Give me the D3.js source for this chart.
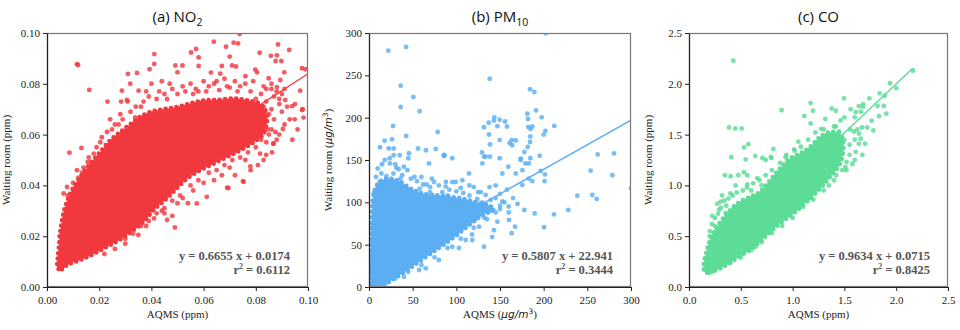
<!DOCTYPE html>
<html>
<head>
<meta charset="utf-8">
<script src="https://cdn.jsdelivr.net/npm/d3@7"></script>
<style>
  body { margin: 0; background: #fff; }
  svg { display: block; }
</style>
</head>
<body>
<div id="chart"></div>
<script>
// ---- values ----

// (a) NO2 : outline of the saturated point cloud, then the loose points
const no2Core = [
  [0.0041,0.0074],[0.0057,0.0070],[0.0077,0.0087],[0.0128,0.0107],[0.0179,0.0131],[0.0230,0.0159],
  [0.0281,0.0188],[0.0332,0.0225],[0.0370,0.0257],[0.0408,0.0303],[0.0459,0.0349],[0.0497,0.0388],
  [0.0536,0.0427],[0.0587,0.0460],[0.0638,0.0486],[0.0689,0.0512],[0.0740,0.0538],[0.0791,0.0570],
  [0.0829,0.0603],[0.0842,0.0681],[0.0816,0.0720],[0.0765,0.0735],[0.0714,0.0742],[0.0651,0.0736],
  [0.0599,0.0734],[0.0548,0.0722],[0.0497,0.0708],[0.0446,0.0700],[0.0395,0.0688],[0.0357,0.0670],
  [0.0319,0.0640],[0.0281,0.0610],[0.0242,0.0577],[0.0204,0.0531],[0.0166,0.0486],[0.0128,0.0433],
  [0.0096,0.0381],[0.0070,0.0316],[0.0054,0.0238],[0.0046,0.0159],[0.0041,0.0107]
];
const no2Points = [
  [0.0115,0.0877],[0.0119,0.0874],[0.0162,0.0776],[0.0232,0.0730],[0.0086,0.0529],[0.0132,0.0547],
  [0.0310,0.0839],[0.0345,0.0843],[0.0319,0.0800],[0.0287,0.0773],[0.0284,0.0730],[0.0309,0.0730],
  [0.0411,0.0917],[0.0411,0.0878],[0.0393,0.0857],[0.0492,0.0872],[0.0519,0.0872],[0.0500,0.0845],
  [0.0552,0.0923],[0.0571,0.0937],[0.0581,0.0904],[0.0581,0.0870],[0.0639,0.0966],[0.0686,0.0946],
  [0.0715,0.0962],[0.0732,0.0959],[0.0738,0.0996],[0.0700,0.0907],[0.0670,0.0870],[0.0709,0.0872],
  [0.0724,0.0868],[0.0628,0.0844],[0.0664,0.0840],[0.0815,0.0922],[0.0858,0.0910],[0.0881,0.0912],
  [0.0885,0.0955],[0.0928,0.0933],[0.0876,0.0890],[0.0898,0.0890],[0.0798,0.0856],[0.0805,0.0845],
  [0.0849,0.0822],[0.0909,0.0845],[0.0977,0.0861],[0.0990,0.0857],[0.0970,0.0773],[0.0949,0.0660],
  [0.0983,0.0667],[0.0977,0.0697],[0.0939,0.0712],[0.0904,0.0622],[0.0868,0.0565],[0.0913,0.0736],
  [0.0894,0.0815],[0.0860,0.0800],[0.0881,0.0787],
  [0.0690,0.0391],[0.0751,0.0417],[0.0808,0.0480],[0.0779,0.0475],[0.0840,0.0520],[0.0862,0.0530],
  [0.0490,0.0234],[0.0480,0.0280],[0.0460,0.0264],[0.0574,0.0329],[0.0695,0.0390],[0.0753,0.0414],
  [0.0612,0.0355],[0.0670,0.0440],[0.0816,0.0525],[0.0867,0.0564],[0.0830,0.0500],[0.0540,0.0330],
  [0.0520,0.0350],[0.0440,0.0300],[0.0410,0.0270],[0.0380,0.0240],[0.0350,0.0205],[0.0300,0.0170],
  [0.0260,0.0150],[0.0220,0.0130],
  [0.0064,0.0368],[0.0077,0.0394],[0.0115,0.0460],[0.0134,0.0450],[0.0156,0.0492],[0.0179,0.0525],
  [0.0204,0.0570],[0.0249,0.0620],[0.0274,0.0640],[0.0242,0.0660],[0.0281,0.0680],[0.0306,0.0736],
  [0.0338,0.0668],[0.0351,0.0773],
  [0.0360,0.0710],[0.0420,0.0740],[0.0450,0.0760],[0.0480,0.0780],[0.0530,0.0770],[0.0550,0.0800],
  [0.0580,0.0770],[0.0620,0.0790],[0.0660,0.0775],[0.0700,0.0785],[0.0740,0.0790],[0.0780,0.0770],
  [0.0800,0.0740],[0.0830,0.0710],[0.0870,0.0750],[0.0880,0.0770],[0.0850,0.0680],[0.0900,0.0690],
  [0.0930,0.0660],[0.0960,0.0620],[0.0890,0.0600],[0.0845,0.0620],[0.0440,0.0810],[0.0380,0.0770],
  [0.0400,0.0800],
  [0.0080,0.0360],[0.0100,0.0410],[0.0120,0.0430],[0.0140,0.0470],[0.0160,0.0510],[0.0190,0.0550],
  [0.0210,0.0590],[0.0230,0.0610],[0.0260,0.0640],[0.0290,0.0660],[0.0320,0.0690],[0.0340,0.0710],
  [0.0370,0.0730],[0.0390,0.0750],[0.0430,0.0770],[0.0460,0.0740],[0.0500,0.0760],[0.0570,0.0780],
  [0.0600,0.0810],[0.0640,0.0800],[0.0680,0.0820],[0.0720,0.0810],[0.0760,0.0830],[0.0790,0.0810],
  [0.0830,0.0790],[0.0860,0.0780],[0.0890,0.0740],[0.0920,0.0710],[0.0950,0.0720],[0.0980,0.0700],
  [0.0910,0.0640],[0.0940,0.0580],[0.0880,0.0580],[0.0860,0.0620],[0.0830,0.0650],[0.0800,0.0660],
  [0.0300,0.0190],[0.0330,0.0210],[0.0360,0.0240],[0.0390,0.0260],[0.0420,0.0290],[0.0450,0.0310],
  [0.0480,0.0340],[0.0510,0.0360],[0.0550,0.0400],[0.0580,0.0420],[0.0620,0.0450],[0.0650,0.0460],
  [0.0680,0.0480],[0.0710,0.0500],[0.0740,0.0510],[0.0770,0.0530],[0.0800,0.0550],[0.0840,0.0570],
  [0.0875,0.0610],[0.0720,0.0440],[0.0640,0.0420],[0.0780,0.0460],
  [0.0780,0.0640],[0.0800,0.0700],[0.0820,0.0760],[0.0840,0.0730],[0.0860,0.0700],[0.0870,0.0660],
  [0.0890,0.0720],[0.0910,0.0780],[0.0900,0.0760],[0.0840,0.0780],[0.0760,0.0800],[0.0730,0.0770],
  [0.0690,0.0790],[0.0650,0.0810],[0.0610,0.0770],[0.0560,0.0760],[0.0520,0.0790],[0.0470,0.0800],
  [0.0760,0.0500],[0.0700,0.0470],[0.0600,0.0410],[0.0560,0.0380],[0.0500,0.0330],[0.0450,0.0290],
  [0.0820,0.0580],[0.0850,0.0600]
];

// (b) PM10
const pmCore = [
  [0,0],[11.5,0.4],[22.9,6.3],[38.2,16.1],[57.3,29.9],[76.3,43.7],[95.4,57.4],[114.5,73.2],
  [129.8,85.0],[143.0,92.0],[135.0,97.0],[122.0,100.0],[108.0,104.0],[95.0,106.0],[80.0,108.0],
  [62.0,110.0],[48.0,116.0],[34.0,125.0],[22.0,128.0],[12.0,124.0],[6.0,112.0],
  [3.0,70.0],[1.5,24],[1.0,0]
];
const pmPoints = [
  [22.1,279.1],[42.4,283.4],[202.3,299.6],[36.3,237.8],[50.8,224.4],[36.3,212.6],[58.0,207.5],
  [138.2,246.0],[184.4,233.5],[189.3,230.4],[27.5,190.2],[78.6,183.1],[42.7,178.3],[17.9,172.7],
  [26.3,174.5],[12.6,165.0],[22.5,163.5],[28.2,163.5],[56.1,163.5],[65.3,161.6],[76.3,163.1],
  [86.3,155.6],[28.2,155.6],[35.1,155.6],[23.7,152.0],[45.0,152.0],[95.4,152.0],[143.5,200.4],
  [137.0,194.0],[143.0,196.5],[149.6,197.5],[155.7,195.5],[131.7,188.6],[147.0,190.0],[158.0,189.5],
  [181.3,204.7],[191.2,208.6],[182.0,198.4],[197.7,200.4],[182.4,189.0],[187.0,189.5],[185.0,186.5],
  [212.2,190.3],[202.0,184.2],[200.0,180.0],[137.4,180.2],[149.6,173.5],[163.4,173.5],[168.0,173.0],
  [161.0,170.0],[164.0,167.5],[184.7,177.8],[184.4,171.2],[181.7,165.3],[177.9,159.4],[138.5,168.3],
  [129.4,159.0],[131.7,154.0],[138.5,154.0],[149.6,152.0],[173.7,151.4],[184.7,152.0],[195.4,155.0],
  [261.8,156.5],[280.5,157.8],[85.9,154.7],
  [253.8,137.4],[278.6,131.9],[300.0,116.5],[238.5,107.8],[255.7,108.6],[260.7,104.0],[228.2,90.9],
  [211.8,85.8],[200.4,70.5],[177.9,90.9],[189.7,86.9],[201.5,133.0],[201.0,125.0],[196.6,137.0],
  [183.0,128.0],[187.0,125.0],[179.0,146.0],[183.0,146.0],[173.7,150.0],[175.6,120.5],[160.3,79.1],
  [167.2,71.3],[163.4,63.4],[131.7,47.6],[118.3,55.5],[141.0,59.0],[143.0,67.0],[147.0,77.0],
  [160.0,95.0],[152.7,101.0],[133.6,108.6],[139.3,102.7],[168.0,134.0],[175.6,138.0],[152.7,134.0],
  [159.5,142.0],[129.8,146.0],[133.6,154.0],[114.5,134.0],[106.9,126.0],[95.4,124.0],[87.8,118.5],
  [68.7,146.0],[45.8,157.9],[85.9,156.0],[99.2,124.0],[74.4,124.0],[5.7,110.7],[5.7,98.9],
  [6.5,112.5],[14.2,134.0],[12.2,124.0],[4.6,71.4],[6.5,61.6],[31.4,140.5],[20.0,131.0],
  [95.4,47.6],[80.0,31.9],[57.3,20.0],[110.7,55.5],[126.0,71.3],[65.0,22.0],[103.0,46.0],
  [118.0,62.0],[135.0,80.0],[40.0,12.0],[150.0,96.0],[145.0,88.0],[120.0,118.0],[62.0,121.0],
  [105.0,117.0],[70.0,118.0],[40.0,142.0],[52.0,130.0],
  [8.0,130.0],[10.0,140.0],[15.0,145.0],[18.0,150.0],[24.0,146.0],[30.0,145.0],[34.0,139.0],
  [38.0,132.0],[44.0,138.0],[48.0,128.0],[55.0,125.0],[60.0,130.0],[66.0,121.0],[72.0,128.0],
  [80.0,120.0],[88.0,124.0],[92.0,115.0],[100.0,113.0],[108.0,111.0],[115.0,108.0],[124.0,104.0],
  [130.0,100.0],[16.0,118.0],[22.0,125.0],[12.0,112.0],[28.0,134.0],[36.0,128.0],[58.0,116.0],
  [10.0,2.0],[20.0,5.0],[30.0,10.0],[45.0,18.0],[60.0,26.0],[75.0,35.0],[90.0,46.0],[105.0,57.0],
  [120.0,70.0],[132.0,82.0],[140.0,90.0],[150.0,92.0],[155.0,100.0],[145.0,105.0],[125.0,112.0],
  [115.0,120.0],
  [110.0,100.0],[118.0,96.0],[126.0,92.0],[100.0,102.0],[112.0,88.0],[122.0,80.0],[135.0,92.0],
  [105.0,80.0],[90.0,108.0],[84.0,112.0],[70.0,112.0],[128.0,112.0],[138.0,118.0],[145.0,120.0],
  [150.0,110.0],[158.0,115.0],[165.0,105.0],[170.0,98.0],[160.0,88.0]
];

// (c) CO
const coCore = [
  [0.157,0.144],[0.254,0.163],[0.366,0.219],[0.494,0.307],[0.623,0.392],[0.751,0.512],[0.879,0.627],
  [1.008,0.725],[1.136,0.839],[1.264,0.969],[1.361,1.084],[1.457,1.214],[1.489,1.377],[1.457,1.508],
  [1.361,1.524],[1.264,1.475],[1.168,1.377],[1.072,1.312],[0.976,1.263],[0.879,1.165],[0.783,1.051],
  [0.687,0.937],[0.591,0.888],[0.494,0.839],[0.398,0.757],[0.318,0.659],[0.254,0.561],[0.205,0.463],
  [0.167,0.333],[0.141,0.202]
];
const coPoints = [
  [0.428,2.227],[2.162,2.129],[1.940,2.005],[2.001,1.957],[1.840,1.906],[1.889,1.883],[1.741,1.857],
  [1.496,1.857],[1.680,1.800],[1.640,1.780],[1.680,1.775],[1.174,1.810],[0.894,1.740],[1.197,1.735],
  [1.377,1.758],[1.416,1.735],[1.560,1.750],[1.610,1.720],[1.660,1.725],[1.820,1.781],[1.880,1.781],
  [1.905,1.705],[1.834,1.680],[1.113,1.683],[1.316,1.653],[1.174,1.610],[0.386,1.570],[0.447,1.560],
  [0.508,1.560],[1.277,1.556],[1.670,1.570],[1.720,1.570],[1.763,1.637],[1.780,1.540],[1.625,1.550],
  [1.640,1.510],[1.464,1.640],[1.500,1.670],[1.600,1.670],[1.416,1.580],[1.448,1.530],[0.531,1.374],
  [0.573,1.406],[0.814,1.358],[1.014,1.355],[1.055,1.430],[0.409,1.277],[0.708,1.270],[0.795,1.270],
  [0.933,1.277],[1.673,1.300],[1.610,1.330],[1.640,1.410],[1.700,1.410],[1.657,1.460],[1.554,1.550],
  [1.593,1.530],[0.547,1.256],[0.640,1.290],[0.740,1.250],[0.790,1.280],[1.520,1.230],[1.577,1.210],
  [1.600,1.250],[0.347,1.100],[0.402,1.090],[0.476,1.100],[0.530,1.130],[0.563,1.100],[0.450,1.000],
  [0.563,1.010],[0.660,1.070],[0.320,0.900],[0.400,0.920],[0.305,0.840],[0.273,0.820],[0.225,0.700],
  [0.290,0.760],[0.354,0.730],[0.766,0.550],[0.778,0.630],[0.643,0.397],[0.620,0.410],[0.965,0.760],
  [1.030,0.790],[1.174,0.873],[1.104,0.888],[1.175,0.881],[1.510,1.180],[1.520,1.150],[1.350,1.000],
  [1.420,1.100],[1.300,1.250],[1.250,1.200],[1.550,1.400],[1.500,1.450],[0.860,0.700],[0.700,0.560],
  [0.560,0.450],[0.420,0.300],[0.300,0.220],[0.200,0.140],[0.600,0.950],[0.700,1.000],[0.850,1.120],
  [1.000,1.200],[1.100,1.280],[0.250,0.600],[0.200,0.500],[0.360,0.800],
  [0.200,0.550],[0.220,0.620],[0.250,0.680],[0.280,0.720],[0.310,0.780],[0.340,0.850],[0.380,0.870],
  [0.420,0.900],[0.460,0.930],[0.520,0.950],[0.560,0.980],[0.620,1.020],[0.680,1.050],[0.740,1.100],
  [0.800,1.150],[0.880,1.220],[0.940,1.300],[1.020,1.340],[1.080,1.380],[1.150,1.450],[1.220,1.520],
  [1.300,1.550],[1.400,1.580],
  [0.300,0.200],[0.400,0.240],[0.500,0.290],[0.600,0.360],[0.700,0.440],[0.800,0.530],[0.900,0.600],
  [1.000,0.680],[1.100,0.790],[1.200,0.860],[1.300,0.950],[1.400,1.050],[1.480,1.150],[1.550,1.300],
  [1.600,1.450]
];

// titles, axis labels, regression text
const titles = ["(a) NO", "(b) PM", "(c) CO"];
const titleSubs = ["2", "10", ""];
const xDomains = [[0, 0.1], [0, 300], [0, 2.5]];
const yDomains = [[0, 0.1], [0, 300], [0, 2.5]];
const tickValues = [
  [0, 0.02, 0.04, 0.06, 0.08, 0.10],
  [0, 50, 100, 150, 200, 250, 300],
  [0, 0.5, 1.0, 1.5, 2.0, 2.5]
];
const tickFormats = [".2f", "d", ".1f"];
const unitLabels = ["ppm", "μg/m³", "ppm"];
const fitSlopes = [0.6655, 0.5807, 0.9634];
const fitIntercepts = [0.0174, 22.941, 0.0715];
const fitXRanges = [[0.004, 0.1], [0, 300], [0.16, 2.16]];
const fitTexts = ["y = 0.6655 x + 0.0174", "y = 0.5807 x + 22.941", "y = 0.9634 x + 0.0715"];
const r2Values = ["0.6112", "0.3444", "0.8425"];
const colors = ["#f2383f", "#5caef3", "#5cdc96"];

const cores = [no2Core, pmCore, coCore];
const points = [no2Points, pmPoints, coPoints];

// ---- layout ----
const W = 960, H = 330;
const plotTop = 33, plotBottom = 287;
const plotLefts = [47, 369, 689];
const plotRights = [308, 631, 948];

const svg = d3.select("#chart").append("svg")
  .attr("width", W).attr("height", H);

const serif = "'Liberation Serif', 'Times New Roman', serif";

titles.forEach((t, i) => {
  const left = plotLefts[i], right = plotRights[i];
  const x = d3.scaleLinear().domain(xDomains[i]).range([left, right]);
  const y = d3.scaleLinear().domain(yDomains[i]).range([plotBottom, plotTop]);
  const g = svg.append("g");

  g.append("clipPath").attr("id", "clip" + i)
    .append("rect")
    .attr("x", left).attr("y", plotTop)
    .attr("width", right - left).attr("height", plotBottom - plotTop);

  const area = g.append("g").attr("clip-path", `url(#clip${i})`);

  // dense part of the cloud, with a dotted rim so the edge reads as markers
  const outline = d3.line()
    .x(d => x(d[0]))
    .y(d => y(d[1]))
    .curve(d3.curveCatmullRomClosed.alpha(0.5));

  area.append("path")
    .datum(cores[i])
    .attr("d", outline)
    .attr("fill", colors[i])
    .attr("stroke", colors[i])
    .attr("stroke-width", 4.8)
    .attr("stroke-linecap", "round")
    .attr("stroke-dasharray", "0,5.5");

  area.selectAll(".dot")
    .data(points[i])
    .enter()
    .append("circle")
    .attr("class", "dot")
    .attr("cx", d => x(d[0]))
    .attr("cy", d => y(d[1]))
    .attr("r", 2.45)
    .attr("fill", colors[i])
    .attr("fill-opacity", 0.82);

  // regression line
  const fx = fitXRanges[i];
  area.append("line")
    .attr("x1", x(fx[0])).attr("y1", y(fitSlopes[i] * fx[0] + fitIntercepts[i]))
    .attr("x2", x(fx[1])).attr("y2", y(fitSlopes[i] * fx[1] + fitIntercepts[i]))
    .attr("stroke", colors[i])
    .attr("stroke-width", 1.4);

  // frame
  g.append("rect")
    .attr("x", left + 0.5).attr("y", plotTop + 0.5)
    .attr("width", right - left - 1).attr("height", plotBottom - plotTop - 1)
    .attr("fill", "none")
    .attr("stroke", "#777")
    .attr("stroke-width", 1.2);

  const xAxis = g.append("g")
    .attr("transform", `translate(0,${plotBottom})`)
    .call(d3.axisBottom(x).tickValues(tickValues[i]).tickFormat(d3.format(tickFormats[i])).tickSize(4).tickSizeOuter(0));
  const yAxis = g.append("g")
    .attr("transform", `translate(${left},0)`)
    .call(d3.axisLeft(y).tickValues(tickValues[i]).tickFormat(d3.format(tickFormats[i])).tickSize(4).tickSizeOuter(0));

  [xAxis, yAxis].forEach(a => {
    a.attr("font-family", null).attr("font-size", null);
    a.select(".domain").attr("stroke", "#222").attr("stroke-width", 1.2);
    a.selectAll(".tick line").attr("stroke", "#222");
    a.selectAll(".tick text")
      .style("font-family", serif)
      .style("font-size", "11px")
      .attr("fill", "#222");
  });
  xAxis.selectAll(".tick text").attr("dy", "0.95em");

  // title
  const title = g.append("text")
    .attr("x", (left + right) / 2)
    .attr("y", 22)
    .attr("text-anchor", "middle")
    .style("font-family", "'Open Sans', 'Noto Sans', sans-serif")
    .style("font-size", "15px")
    .attr("fill", "#111")
    .text(t);
  if (titleSubs[i]) {
    title.append("tspan")
      .style("font-size", "10.5px")
      .attr("dy", 3.5)
      .text(titleSubs[i]);
  }

  // axis labels
  const isMath = unitLabels[i] !== "ppm";
  const xl = g.append("text")
    .attr("x", (left + right) / 2)
    .attr("y", 318)
    .attr("text-anchor", "middle")
    .style("font-family", serif)
    .style("font-size", "11px")
    .attr("fill", "#222");
  const yl = g.append("text")
    .attr("transform", `translate(${left - 37},${(plotTop + plotBottom) / 2}) rotate(-90)`)
    .attr("text-anchor", "middle")
    .style("font-family", serif)
    .style("font-size", "11px")
    .attr("fill", "#222");

  [[xl, "AQMS ("], [yl, "Waiting room ("]].forEach(([el, head]) => {
    el.append("tspan").text(head);
    if (isMath) {
      el.append("tspan").style("font-family", "'DejaVu Sans', sans-serif")
        .style("font-style", "italic").style("font-size", "10.5px").text("μg/m");
      el.append("tspan").style("font-family", "'DejaVu Sans', sans-serif")
        .style("font-size", "7.5px").attr("dy", -4).text("3");
      el.append("tspan").attr("dy", 4).text(")");
    } else {
      el.append("tspan").text(unitLabels[i] + ")");
    }
  });

  // regression annotation
  const ax = right - 18;
  g.append("text")
    .attr("x", ax).attr("y", 260)
    .attr("text-anchor", "end")
    .style("font-family", serif)
    .style("font-weight", "bold")
    .style("font-size", "12.5px")
    .attr("fill", "#555")
    .text(fitTexts[i]);
  const r2 = g.append("text")
    .attr("x", ax).attr("y", 274)
    .attr("text-anchor", "end")
    .style("font-family", serif)
    .style("font-weight", "bold")
    .style("font-size", "12.5px")
    .attr("fill", "#555");
  r2.append("tspan").text("r");
  r2.append("tspan").style("font-size", "8px").attr("dy", -5).text("2");
  r2.append("tspan").attr("dy", 5).text(" = " + r2Values[i]);
});
</script>
</body>
</html>
